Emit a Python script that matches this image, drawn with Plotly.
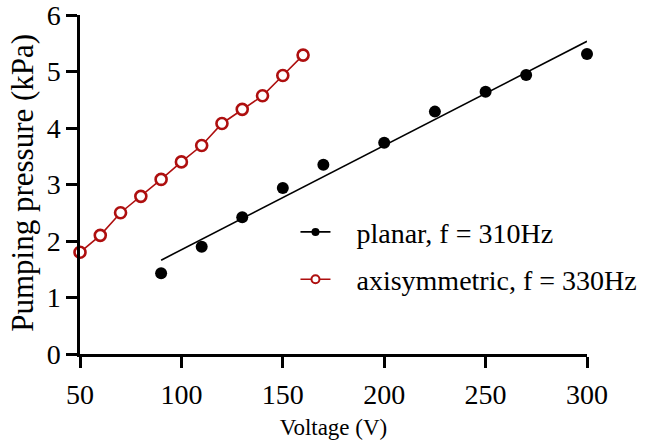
import numpy as np
import plotly.graph_objects as go

# Data
planar_voltage = [90, 110, 130, 150, 170, 200, 225, 250, 270, 300]
planar_pressure = [1.43, 1.90, 2.42, 2.94, 3.35, 3.74, 4.29, 4.64, 4.94, 5.31]

axi_voltage = [50, 60, 70, 80, 90, 100, 110, 120, 130, 140, 150, 160]
axi_pressure = [1.80, 2.10, 2.50, 2.79, 3.09, 3.40, 3.69, 4.08, 4.33, 4.57, 4.93, 5.29]

x_ticks = [50, 100, 150, 200, 250, 300]
y_ticks = [0, 1, 2, 3, 4, 5, 6]

RED = "#AE0F0F"
FONT = "'Liberation Serif', 'Times New Roman', 'DejaVu Serif', serif"
PAD = "\u00a0\u00a0\u00a0"

# linear fit for planar series
p = np.polyfit(planar_voltage, planar_pressure, 1)
fit_x = [min(planar_voltage), max(planar_voltage)]
fit_y = [float(np.polyval(p, v)) for v in fit_x]

fig = go.Figure()

fig.add_trace(go.Scatter(x=fit_x, y=fit_y, mode="lines",
                         line=dict(color="black", width=1.6),
                         showlegend=False, cliponaxis=False, hoverinfo="skip"))
fig.add_trace(go.Scatter(x=planar_voltage, y=planar_pressure, mode="markers",
                         marker=dict(color="black", size=12),
                         showlegend=False, cliponaxis=False))
fig.add_trace(go.Scatter(x=axi_voltage, y=axi_pressure, mode="lines+markers",
                         line=dict(color=RED, width=1.6),
                         marker=dict(color="white", size=11, symbol="circle",
                                     line=dict(color=RED, width=2.6)),
                         showlegend=False, cliponaxis=False))

# legend-only entries
fig.add_trace(go.Scatter(x=[None], y=[None], mode="lines+markers",
                         name=PAD + "planar, f = 310Hz", legendgroup="a",
                         line=dict(color="black", width=1.6),
                         marker=dict(color="black", size=8)))
fig.add_trace(go.Scatter(x=[None], y=[None], mode="lines+markers",
                         name=PAD + "axisymmetric, f = 330Hz", legendgroup="b",
                         line=dict(color=RED, width=1.6),
                         marker=dict(color="white", size=8,
                                     line=dict(color=RED, width=2))))

axis_common = dict(showline=True, linecolor="black", linewidth=2.5,
                   ticks="outside", ticklen=11, tickwidth=2.5, tickcolor="black",
                   showgrid=False, zeroline=False, mirror=False,
                   ticklabeloverflow="allow", automargin=False,
                   tickfont=dict(family=FONT, size=28, color="black"))

fig.update_layout(
    width=648, height=445,
    margin=dict(l=80, r=61, t=15, b=91, autoexpand=False),
    paper_bgcolor="white", plot_bgcolor="white",
    font=dict(family=FONT, color="black"),
    xaxis=dict(range=[50, 300], tickvals=x_ticks, ticklabelstandoff=3,
               title=dict(text="Voltage (V)", font=dict(family=FONT, size=23),
                          standoff=10),
               **axis_common),
    yaxis=dict(range=[0, 6], tickvals=y_ticks, **axis_common),
    legend=dict(x=0.425, y=0.29, xanchor="left", yanchor="middle",
                bgcolor="rgba(0,0,0,0)", font=dict(family=FONT, size=28),
                tracegroupgap=8, itemsizing="trace"),
    annotations=[dict(text="Pumping pressure (kPa)", textangle=-90,
                      xref="paper", yref="paper", x=-0.1125, y=0.505,
                      xanchor="center", yanchor="middle", showarrow=False,
                      font=dict(family=FONT, size=31, color="black"))],
)

fig.write_html("out.html")
